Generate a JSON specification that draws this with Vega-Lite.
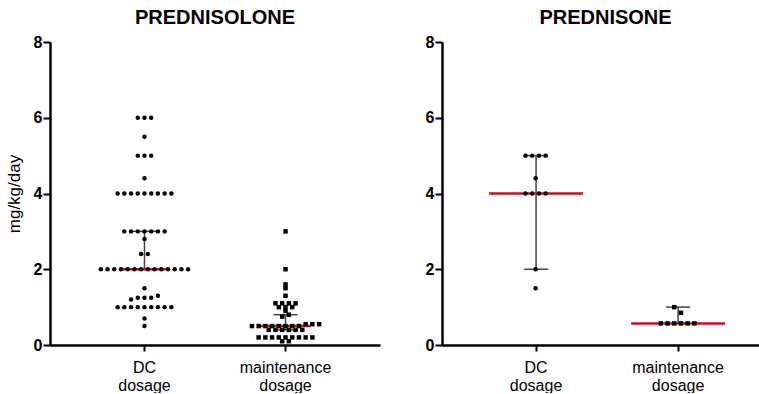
{
  "$schema": "https://vega.github.io/schema/vega-lite/v6.json",
  "background": "white",
  "padding": {"left": 5, "top": 8, "right": 0, "bottom": 0},
  "spacing": 62,
  "bounds": "flush",
  "config": {
    "font": "Liberation Sans",
    "view": {"stroke": null},
    "axis": {"grid": false, "domainColor": "#000", "domainWidth": 2, "tickColor": "#000", "tickWidth": 2, "labelColor": "#000", "titleColor": "#000"},
    "title": {"fontSize": 20, "fontWeight": "bold", "color": "#000", "anchor": "middle", "offset": 6}
  },
  "datasets": {
    "prednisolone": [
      {"cat": "DC dosage", "v": 6}, {"cat": "DC dosage", "v": 6}, {"cat": "DC dosage", "v": 6},
      {"cat": "DC dosage", "v": 5.5},
      {"cat": "DC dosage", "v": 5}, {"cat": "DC dosage", "v": 5}, {"cat": "DC dosage", "v": 5},
      {"cat": "DC dosage", "v": 4.4},
      {"cat": "DC dosage", "v": 4}, {"cat": "DC dosage", "v": 4}, {"cat": "DC dosage", "v": 4}, {"cat": "DC dosage", "v": 4}, {"cat": "DC dosage", "v": 4}, {"cat": "DC dosage", "v": 4}, {"cat": "DC dosage", "v": 4}, {"cat": "DC dosage", "v": 4}, {"cat": "DC dosage", "v": 4},
      {"cat": "DC dosage", "v": 3}, {"cat": "DC dosage", "v": 3}, {"cat": "DC dosage", "v": 3}, {"cat": "DC dosage", "v": 3}, {"cat": "DC dosage", "v": 3}, {"cat": "DC dosage", "v": 3}, {"cat": "DC dosage", "v": 3},
      {"cat": "DC dosage", "v": 2.8},
      {"cat": "DC dosage", "v": 2.4}, {"cat": "DC dosage", "v": 2.4},
      {"cat": "DC dosage", "v": 2}, {"cat": "DC dosage", "v": 2}, {"cat": "DC dosage", "v": 2}, {"cat": "DC dosage", "v": 2}, {"cat": "DC dosage", "v": 2}, {"cat": "DC dosage", "v": 2}, {"cat": "DC dosage", "v": 2}, {"cat": "DC dosage", "v": 2}, {"cat": "DC dosage", "v": 2}, {"cat": "DC dosage", "v": 2}, {"cat": "DC dosage", "v": 2}, {"cat": "DC dosage", "v": 2}, {"cat": "DC dosage", "v": 2}, {"cat": "DC dosage", "v": 2},
      {"cat": "DC dosage", "v": 1.5},
      {"cat": "DC dosage", "v": 1.25}, {"cat": "DC dosage", "v": 1.25}, {"cat": "DC dosage", "v": 1.2}, {"cat": "DC dosage", "v": 1.25}, {"cat": "DC dosage", "v": 1.3},
      {"cat": "DC dosage", "v": 1}, {"cat": "DC dosage", "v": 1}, {"cat": "DC dosage", "v": 1}, {"cat": "DC dosage", "v": 1}, {"cat": "DC dosage", "v": 1}, {"cat": "DC dosage", "v": 1}, {"cat": "DC dosage", "v": 1}, {"cat": "DC dosage", "v": 1}, {"cat": "DC dosage", "v": 1},
      {"cat": "DC dosage", "v": 0.7},
      {"cat": "DC dosage", "v": 0.5},
      {"cat": "maintenance dosage", "v": 3},
      {"cat": "maintenance dosage", "v": 2},
      {"cat": "maintenance dosage", "v": 1.6}, {"cat": "maintenance dosage", "v": 1.5},
      {"cat": "maintenance dosage", "v": 1.3},
      {"cat": "maintenance dosage", "v": 1.1}, {"cat": "maintenance dosage", "v": 1.1}, {"cat": "maintenance dosage", "v": 1.1}, {"cat": "maintenance dosage", "v": 1.1},
      {"cat": "maintenance dosage", "v": 1.0}, {"cat": "maintenance dosage", "v": 1.0}, {"cat": "maintenance dosage", "v": 1.0},
      {"cat": "maintenance dosage", "v": 0.9},
      {"cat": "maintenance dosage", "v": 0.8}, {"cat": "maintenance dosage", "v": 0.75},
      {"cat": "maintenance dosage", "v": 0.55}, {"cat": "maintenance dosage", "v": 0.55}, {"cat": "maintenance dosage", "v": 0.55},
      {"cat": "maintenance dosage", "v": 0.5}, {"cat": "maintenance dosage", "v": 0.5}, {"cat": "maintenance dosage", "v": 0.5}, {"cat": "maintenance dosage", "v": 0.5}, {"cat": "maintenance dosage", "v": 0.5}, {"cat": "maintenance dosage", "v": 0.5}, {"cat": "maintenance dosage", "v": 0.5}, {"cat": "maintenance dosage", "v": 0.5},
      {"cat": "maintenance dosage", "v": 0.4}, {"cat": "maintenance dosage", "v": 0.4}, {"cat": "maintenance dosage", "v": 0.4}, {"cat": "maintenance dosage", "v": 0.4}, {"cat": "maintenance dosage", "v": 0.4}, {"cat": "maintenance dosage", "v": 0.4},
      {"cat": "maintenance dosage", "v": 0.2}, {"cat": "maintenance dosage", "v": 0.2}, {"cat": "maintenance dosage", "v": 0.2}, {"cat": "maintenance dosage", "v": 0.2}, {"cat": "maintenance dosage", "v": 0.2}, {"cat": "maintenance dosage", "v": 0.2}, {"cat": "maintenance dosage", "v": 0.2}, {"cat": "maintenance dosage", "v": 0.2}, {"cat": "maintenance dosage", "v": 0.2},
      {"cat": "maintenance dosage", "v": 0.1}, {"cat": "maintenance dosage", "v": 0.1}
    ],
    "prednisone": [
      {"cat": "DC dosage", "v": 5}, {"cat": "DC dosage", "v": 5}, {"cat": "DC dosage", "v": 5}, {"cat": "DC dosage", "v": 5},
      {"cat": "DC dosage", "v": 4.4},
      {"cat": "DC dosage", "v": 4}, {"cat": "DC dosage", "v": 4}, {"cat": "DC dosage", "v": 4}, {"cat": "DC dosage", "v": 4},
      {"cat": "DC dosage", "v": 2},
      {"cat": "DC dosage", "v": 1.5},
      {"cat": "maintenance dosage", "v": 1.0},
      {"cat": "maintenance dosage", "v": 0.85},
      {"cat": "maintenance dosage", "v": 0.57}, {"cat": "maintenance dosage", "v": 0.57}, {"cat": "maintenance dosage", "v": 0.57}, {"cat": "maintenance dosage", "v": 0.57}, {"cat": "maintenance dosage", "v": 0.57}, {"cat": "maintenance dosage", "v": 0.57}
    ],
    "summary": [
      {"drug": "PREDNISOLONE", "cat": "DC dosage", "median": 2, "lo": 2, "hi": 3},
      {"drug": "PREDNISOLONE", "cat": "maintenance dosage", "median": 0.5, "lo": 0.4, "hi": 0.8},
      {"drug": "PREDNISONE", "cat": "DC dosage", "median": 4, "lo": 2, "hi": 5},
      {"drug": "PREDNISONE", "cat": "maintenance dosage", "median": 0.57, "lo": 0.57, "hi": 1.0}
    ]
  },
  "hconcat": [
    {
      "title": {"text": "PREDNISOLONE"},
      "width": 330,
      "height": 303,
      "layer": [
        {
          "data": {"name": "summary"},
          "transform": [{"filter": "datum.drug === 'PREDNISOLONE'"}],
          "mark": {"type": "rule", "color": "#444", "strokeWidth": 1.5, "opacity": 1},
          "encoding": {
            "x": {"field": "cat", "type": "nominal", "sort": ["DC dosage", "maintenance dosage"], "scale": {"type": "band", "paddingInner": 0, "paddingOuter": 0.17},
              "axis": {"title": null, "labelAngle": 0, "labelFontSize": 16, "labelColor": "#000", "labelExpr": "split(datum.label, ' ')", "labelLineHeight": 18, "tickSize": 6, "tickWidth": 2, "tickColor": "#000", "domainWidth": 2.5, "domainColor": "#000", "labelPadding": 8}},
            "y": {"field": "lo", "type": "quantitative", "scale": {"domain": [0, 8], "nice": false},
              "axis": {"title": "mg/kg/day", "values": [0, 1, 2, 3, 4, 5, 6, 7, 8], "labelExpr": "datum.value % 2 ? '' : datum.label",
                "tickSize": {"condition": {"test": "datum.value % 2 === 1", "value": 3}, "value": 7}, "tickWidth": 2, "tickColor": "#000", "domainWidth": 2.5, "domainColor": "#000",
                "labelFontSize": 16, "labelFontWeight": "bold", "labelColor": "#000", "labelPadding": 1, "titleFontSize": 17, "titleFontWeight": "normal", "titleColor": "#000", "titlePadding": 10}},
            "y2": {"field": "hi"}
          }
        },
        {
          "data": {"name": "summary"},
          "transform": [{"filter": "datum.drug === 'PREDNISOLONE'"}],
          "mark": {"type": "tick", "orient": "horizontal", "color": "#444", "thickness": 1.5, "size": 24, "opacity": 1},
          "encoding": {"x": {"field": "cat", "type": "nominal"}, "y": {"field": "hi", "type": "quantitative"}}
        },
        {
          "data": {"name": "summary"},
          "transform": [{"filter": "datum.drug === 'PREDNISOLONE'"}],
          "mark": {"type": "tick", "orient": "horizontal", "color": "#444", "thickness": 1.5, "size": 24, "opacity": 1},
          "encoding": {"x": {"field": "cat", "type": "nominal"}, "y": {"field": "lo", "type": "quantitative"}}
        },
        {
          "data": {"name": "summary"},
          "transform": [{"filter": "datum.drug === 'PREDNISOLONE'"}],
          "mark": {"type": "tick", "orient": "horizontal", "color": "#c8101e", "thickness": 2.5, "size": 50, "opacity": 1},
          "encoding": {"x": {"field": "cat", "type": "nominal"}, "y": {"field": "median", "type": "quantitative"}}
        },
        {
          "data": {"name": "prednisolone"},
          "transform": [
            {"calculate": "round(datum.v * 8)", "as": "rowkey"},
            {"window": [{"op": "row_number", "as": "rn"}, {"op": "count", "as": "n"}], "groupby": ["cat", "rowkey"], "sort": [{"field": "v"}], "frame": [null, null]},
            {"calculate": "datum.rn - (datum.n + 1) / 2", "as": "slot"}
          ],
          "mark": {"type": "point", "filled": true, "opacity": 1, "color": "#000", "size": 20},
          "encoding": {
            "x": {"field": "cat", "type": "nominal"},
            "xOffset": {"field": "slot", "type": "quantitative", "scale": {"domain": [-10.5, 10.5]}},
            "y": {"field": "v", "type": "quantitative"},
            "shape": {"field": "cat", "type": "nominal", "scale": {"domain": ["DC dosage", "maintenance dosage"], "range": ["circle", "square"]}, "legend": null}
          }
        }
      ]
    },
    {
      "title": {"text": "PREDNISONE", "dx": 5},
      "width": 317,
      "height": 303,
      "layer": [
        {
          "data": {"name": "summary"},
          "transform": [{"filter": "datum.drug === 'PREDNISONE'"}],
          "mark": {"type": "rule", "color": "#444", "strokeWidth": 1.5, "opacity": 1},
          "encoding": {
            "x": {"field": "cat", "type": "nominal", "sort": ["DC dosage", "maintenance dosage"], "scale": {"type": "band", "paddingInner": 0, "paddingOuter": 0.116, "align": 0.7},
              "axis": {"title": null, "labelAngle": 0, "labelFontSize": 16, "labelColor": "#000", "labelExpr": "split(datum.label, ' ')", "labelLineHeight": 18, "tickSize": 6, "tickWidth": 2, "tickColor": "#000", "domainWidth": 2.5, "domainColor": "#000", "labelPadding": 8}},
            "y": {"field": "lo", "type": "quantitative", "scale": {"domain": [0, 8], "nice": false},
              "axis": {"title": null, "values": [0, 1, 2, 3, 4, 5, 6, 7, 8], "labelExpr": "datum.value % 2 ? '' : datum.label",
                "tickSize": {"condition": {"test": "datum.value % 2 === 1", "value": 3}, "value": 7}, "tickWidth": 2, "tickColor": "#000", "domainWidth": 2.5, "domainColor": "#000",
                "labelFontSize": 16, "labelFontWeight": "bold", "labelColor": "#000", "labelPadding": 1}},
            "y2": {"field": "hi"}
          }
        },
        {
          "data": {"name": "summary"},
          "transform": [{"filter": "datum.drug === 'PREDNISONE'"}],
          "mark": {"type": "tick", "orient": "horizontal", "color": "#444", "thickness": 1.5, "size": 24, "opacity": 1},
          "encoding": {"x": {"field": "cat", "type": "nominal"}, "y": {"field": "hi", "type": "quantitative"}}
        },
        {
          "data": {"name": "summary"},
          "transform": [{"filter": "datum.drug === 'PREDNISONE'"}],
          "mark": {"type": "tick", "orient": "horizontal", "color": "#444", "thickness": 1.5, "size": 24, "opacity": 1},
          "encoding": {"x": {"field": "cat", "type": "nominal"}, "y": {"field": "lo", "type": "quantitative"}}
        },
        {
          "data": {"name": "summary"},
          "transform": [{"filter": "datum.drug === 'PREDNISONE'"}],
          "mark": {"type": "tick", "orient": "horizontal", "color": "#c8101e", "thickness": 2.5, "size": 94, "opacity": 1},
          "encoding": {"x": {"field": "cat", "type": "nominal"}, "y": {"field": "median", "type": "quantitative"}}
        },
        {
          "data": {"name": "prednisone"},
          "transform": [
            {"calculate": "ceil(datum.v * 4)", "as": "rowkey"},
            {"window": [{"op": "row_number", "as": "rn"}, {"op": "count", "as": "n"}], "groupby": ["cat", "rowkey"], "sort": [{"field": "v", "order": "descending"}], "frame": [null, null]},
            {"calculate": "datum.rn - (datum.n + 1) / 2", "as": "slot"}
          ],
          "mark": {"type": "point", "filled": true, "opacity": 1, "color": "#000", "size": 20},
          "encoding": {
            "x": {"field": "cat", "type": "nominal"},
            "xOffset": {"field": "slot", "type": "quantitative", "scale": {"domain": [-10.5, 10.5]}},
            "y": {"field": "v", "type": "quantitative"},
            "shape": {"field": "cat", "type": "nominal", "scale": {"domain": ["DC dosage", "maintenance dosage"], "range": ["circle", "square"]}, "legend": null}
          }
        }
      ]
    }
  ]
}
